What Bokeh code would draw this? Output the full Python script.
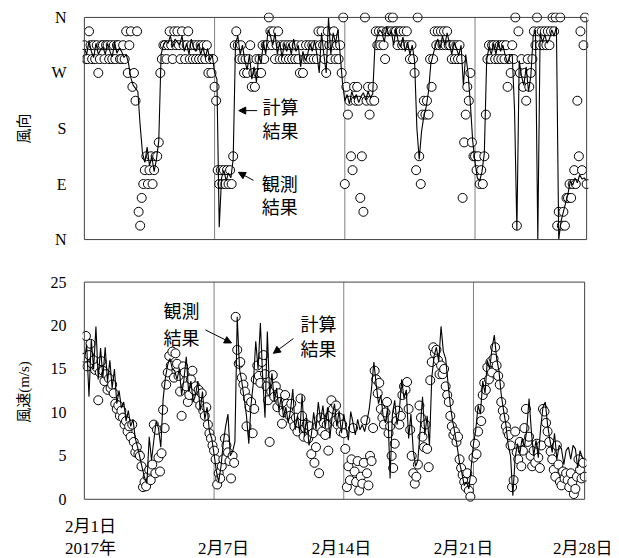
import numpy as np
from bokeh.plotting import figure
from bokeh.layouts import column
from bokeh.models import (FixedTicker, BoxAnnotation, Label, Arrow, NormalHead, Range1d,
                          LinearAxis)
from bokeh.embed import file_html
from bokeh.resources import INLINE

# ---------------- data (from 2017-02-01 00:00) ----------------
# observations: 2-hourly (12 per day); calculation: 3-hourly (8 per day)
OBS_PER_DAY = 12
CALC_PER_DAY = 8

obs_speed = [
    16.3, 18.8, 15.3, 16.6, 17.9, 15.6, 16.0, 14.9, 15.2, 11.4, 14.6, 15.9,
    14.8, 13.6, 14.4, 12.6, 13.9, 12.8, 13.2, 12.2, 11.0, 10.4, 10.8, 9.6,
    10.2, 9.4, 8.6, 9.0, 7.8, 8.4, 7.2, 8.6, 6.6, 5.4, 6.0, 5.2,
    5.0, 3.8, 1.4, 2.0, 1.5, 2.6, 3.4, 2.2, 4.0, 8.6, 3.0, 8.0,
    4.8, 3.2, 5.3, 10.3, 8.2, 13.2, 14.6, 16.5, 15.4, 17.0, 14.0, 16.8,
    15.6, 14.2, 12.4, 9.6, 15.3, 14.6, 13.0, 11.2, 12.0, 13.8, 14.8, 12.6,
    13.0, 11.6, 12.6, 10.8, 12.2, 10.2, 9.6, 10.6, 8.6, 7.6, 7.0, 6.2,
    5.6, 4.6, 1.7, 3.0, 2.4, 3.8, 4.6, 7.0, 6.2, 5.4, 4.4, 2.4,
    5.0, 4.2, 21.0, 17.2, 15.6, 15.8, 14.0, 13.2, 12.4, 8.4, 11.6, 10.6,
    11.2, 7.6, 10.4, 13.8, 15.4, 14.2, 13.4, 15.8, 16.6, 14.4, 13.0, 11.4,
    6.6, 12.4, 14.3, 11.8, 13.0, 10.6, 12.2, 11.2, 8.7, 10.0, 12.0, 11.0,
    10.4, 9.6, 11.0, 9.0, 8.4, 9.4, 7.8, 8.8, 11.6, 9.6, 7.2, 8.2,
    8.6, 7.0, 8.4, 5.2, 7.6, 4.2, 6.0, 8.4, 3.0, 9.4, 7.8, 8.8,
    7.4, 8.6, 5.6, 9.6, 11.4, 10.4, 9.0, 10.8, 8.6, 9.4, 7.8, 8.6,
    7.6, 5.8, 1.4, 3.8, 2.2, 4.6, 8.2, 3.2, 2.0, 4.4, 1.0, 2.6,
    1.8, 4.2, 9.1, 3.0, 1.6, 5.0, 4.4, 8.2, 14.8, 13.8, 12.2, 13.4,
    10.4, 9.4, 8.6, 10.0, 11.2, 7.6, 8.4, 5.0, 3.6, 6.4, 9.0, 10.2,
    8.6, 9.6, 12.0, 13.0, 12.6, 13.5, 10.4, 8.0, 5.0, 3.0, 1.8, 2.6,
    4.0, 10.8, 9.4, 7.2, 6.0, 8.6, 5.8, 3.7, 13.7, 15.8, 17.5, 16.8,
    17.2, 16.0, 14.4, 15.4, 14.4, 15.0, 13.0, 12.0, 11.2, 9.6, 8.4, 7.4,
    7.8, 6.6, 7.2, 4.6, 3.6, 2.8, 2.0, 1.4, 3.0, 1.0, 0.3, 2.2,
    4.8, 6.4, 5.2, 7.8, 10.4, 9.0, 12.0, 13.4, 12.6, 15.2, 13.8, 15.8,
    14.6, 16.2, 17.5, 15.4, 14.2, 13.2, 11.2, 10.2, 9.4, 8.4, 7.8, 7.4,
    6.2, 1.4, 2.2, 7.8, 5.4, 4.6, 6.6, 3.8, 5.6, 8.2, 10.4, 6.6,
    7.2, 5.0, 3.8, 5.6, 4.2, 6.4, 4.8, 3.6, 6.2, 10.4, 10.1, 8.8,
    7.8, 6.6, 5.5, 4.6, 3.4, 2.6, 6.2, 4.0, 2.0, 1.6, 3.2, 2.4,
    3.0, 2.2, 1.4, 3.0, 2.0, 0.6, 1.2, 2.6, 4.6, 3.4, 2.4, 4.2,
    2.6,
]

obs_dir = [
    315, 292.5, 292.5, 337.5, 315, 292.5, 315, 292.5, 315, 270, 292.5, 315,
    315, 292.5, 315, 315, 292.5, 315, 292.5, 315, 292.5, 315, 315, 292.5,
    292.5, 315, 292.5, 337.5, 270, 315, 337.5, 247.5, 270, 225, 337.5, 45,
    22.5, 67.5, 90, 112.5, 135, 90, 112.5, 135, 90, 112.5, 135, 135,
    157.5, 270, 292.5, 315, 315, 292.5, 315, 337.5, 315, 292.5, 337.5, 315,
    337.5, 315, 292.5, 337.5, 315, 292.5, 315, 337.5, 292.5, 315, 292.5, 315,
    292.5, 315, 292.5, 315, 292.5, 315, 292.5, 315, 270, 292.5, 270, 292.5,
    247.5, 225, 112.5, 90, 112.5, 90, 112.5, 90, 112.5, 90, 112.5, 90,
    135, 315, 337.5, 315, 292.5, 315, 292.5, 270, 292.5, 270, 292.5, 315,
    247.5, 270, 247.5, 292.5, 270, 292.5, 270, 315, 292.5, 315, 315, 360,
    337.5, 315, 337.5, 292.5, 315, 337.5, 292.5, 315, 292.5, 315, 292.5, 315,
    292.5, 315, 292.5, 315, 292.5, 315, 292.5, 270, 315, 270, 292.5, 315,
    292.5, 315, 292.5, 315, 292.5, 315, 292.5, 337.5, 315, 337.5, 315, 292.5,
    270, 337.5, 315, 292.5, 315, 337.5, 292.5, 315, 292.5, 315, 270, 360,
    90, 247.5, 202.5, 225, 135, 112.5, 247.5, 225, 247.5, 225, 67.5, 135,
    45, 360, 225, 247.5, 202.5, 225, 247.5, 225, 337.5, 315, 337.5, 315,
    337.5, 315, 292.5, 337.5, 337.5, 360, 337.5, 360, 337.5, 337.5, 315, 337.5,
    337.5, 315, 337.5, 315, 337.5, 315, 292.5, 315, 292.5, 270, 112.5, 360,
    135, 90, 202.5, 225, 202.5, 225, 202.5, 292.5, 247.5, 292.5, 337.5, 315,
    337.5, 315, 337.5, 315, 337.5, 315, 337.5, 315, 315, 292.5, 315, 292.5,
    315, 292.5, 315, 292.5, 67.5, 157.5, 202.5, 247.5, 225, 270, 157.5, 135,
    135, 112.5, 135, 90, 112.5, 90, 135, 202.5, 292.5, 315, 292.5, 315,
    315, 292.5, 315, 292.5, 315, 292.5, 315, 292.5, 315, 247.5, 292.5, 270,
    315, 292.5, 360, 22.5, 337.5, 270, 292.5, 247.5, 270, 225, 292.5, 247.5,
    270, 292.5, 337.5, 315, 360, 337.5, 315, 337.5, 315, 337.5, 315, 337.5,
    315, 337.5, 360, 337.5, 360, 22.5, 45, 360, 22.5, 45, 22.5, 67.5,
    67.5, 90, 67.5, 90, 112.5, 90, 225, 135, 337.5, 112.5, 315, 360,
    90,
]

calc_speed = [
    16.0, 17.8, 11.8, 18.4, 15.0, 19.9, 13.8, 17.4,
    14.0, 17.5, 13.5, 16.0, 12.8, 15.0, 11.0, 12.5,
    10.5, 11.2, 9.0, 10.2, 8.4, 9.2, 7.0, 6.0,
    4.8, 3.6, 2.5, 1.8, 7.2, 4.5, 6.8, 9.0,
    8.2, 6.0, 11.5, 14.0, 15.5, 16.2, 15.0, 14.8,
    13.8, 15.0, 12.0, 13.8, 16.4, 12.4, 13.6, 11.2,
    12.0, 13.6, 10.2, 12.4, 9.2, 10.6, 7.8, 7.0,
    5.2, 3.2, 2.0, 3.8, 6.5, 8.4, 9.8, 5.0,
    5.5, 6.6, 21.0, 15.0, 13.5, 11.6, 9.6, 6.4,
    11.0, 13.5, 18.2, 15.0, 20.3, 14.0, 9.4, 19.3,
    12.0, 14.5, 11.2, 12.8, 10.2, 11.8, 9.4, 10.6,
    8.8, 10.2, 12.7, 8.0, 9.6, 7.6, 12.0, 7.2,
    9.4, 6.2, 7.4, 10.0, 8.0, 11.2, 9.0, 10.8,
    8.2, 10.6, 7.0, 9.6, 11.0, 8.4, 10.2, 7.6,
    9.8, 8.2, 6.8, 10.1, 8.8, 7.4, 9.2, 8.0,
    8.6, 7.8, 9.0, 10.4, 12.8, 15.8, 13.2, 11.0,
    12.0, 9.6, 8.8, 10.6, 2.4, 9.8, 11.4, 8.6,
    10.2, 13.8, 11.6, 12.6, 7.0, 9.8, 5.6, 3.8,
    4.5, 8.0, 11.8, 7.4, 9.6, 6.2, 14.0, 16.5,
    17.5, 15.8, 19.9, 17.0, 16.2, 13.4, 10.8, 9.0,
    7.6, 6.0, 4.2, 3.0, 1.6, 2.0, 1.2, 3.6,
    6.4, 8.0, 10.8, 9.8, 13.6, 12.2, 16.0, 15.0,
    17.4, 18.9, 16.2, 14.8, 12.0, 10.2, 8.6, 6.2,
    5.0, 0.4, 4.8, 6.4, 5.2, 7.0, 6.0, 8.0,
    11.6, 7.8, 5.0, 6.8, 4.8, 8.2, 10.6, 11.2,
    8.6, 6.8, 5.4, 7.6, 4.6, 6.2, 5.8, 4.0,
    5.6, 6.0, 4.6, 6.2, 5.8, 3.6, 5.6, 4.8,
    4.6,
]

calc_dir = [
    310, 300, 322, 305, 295, 318, 300, 308,
    312, 300, 318, 305, 296, 320, 302, 310,
    305, 295, 300, 285, 262, 250, 245, 240,
    185, 140, 125, 150, 120, 135, 110, 130,
    160, 300, 315, 322, 318, 330, 312, 325,
    320, 315, 330, 305, 318, 300, 325, 310,
    305, 318, 300, 312, 295, 310, 290, 300,
    270, 260, 20, 100, 112, 95, 108, 100,
    130, 318, 330, 300, 315, 290, 275, 300,
    260, 280, 255, 300, 285, 320, 300, 340,
    330, 315, 335, 300, 320, 295, 318, 305,
    318, 300, 325, 305, 315, 280, 305, 290,
    300, 318, 305, 322, 300, 270, 335, 300,
    270, 360, 300, 335, 318, 340, 300, 255,
    225, 235, 220, 240, 228, 235, 222, 232,
    238, 226, 240, 230, 236, 318, 330, 340,
    335, 320, 345, 330, 338, 315, 342, 320,
    312, 328, 305, 320, 300, 315, 290, 180,
    130, 175, 200, 215, 240, 285, 300, 315,
    325, 310, 330, 315, 335, 318, 300, 320,
    310, 298, 315, 250, 300, 270, 220, 160,
    125, 100, 95, 110, 140, 290, 312, 300,
    318, 300, 322, 305, 315, 298, 285, 300,
    300, 210, 15, 290, 265, 250, 280, 240,
    265, 330, 340, 0, 335, 320, 332, 318,
    325, 340, 330, 345, 0, 30, 45, 60,
    75, 95, 88, 100, 92, 105, 98, 100,
    95,
]

dir_ticks = [0, 90, 180, 270, 360]
dir_labels = ["N", "E", "S", "W", "N"]
speed_ticks = [0, 5, 10, 15, 20, 25]
day_dividers = [7, 14, 21]
n_days = 27
x_tick_labels = ["2月1日", "2月7日", "2月14日", "2月21日", "2月28日"]
year_label = "2017年"

# ---------------- layout / styling ----------------
t_obs = np.arange(len(obs_speed)) / OBS_PER_DAY
t_calc = np.arange(len(calc_speed)) / CALC_PER_DAY

SERIF_CJK = "'Liberation Serif', 'Noto Sans CJK JP'"
CJK = "'Noto Sans CJK JP'"
BOX_COLOR = "#404040"
DIV_COLOR = "#808080"
MARK = 9


def plain_axis(ax, standoff, font, size):
    ax.axis_line_color = None
    ax.major_tick_line_color = None
    ax.minor_tick_line_color = None
    ax.major_tick_out = 0
    ax.major_tick_in = 0
    ax.minor_tick_out = 0
    ax.minor_tick_in = 0
    ax.major_label_standoff = standoff
    ax.major_label_text_font = font
    ax.major_label_text_font_size = size
    ax.major_label_text_color = "black"


def style_common(p):
    p.xgrid.visible = False
    p.ygrid.visible = False
    p.outline_line_color = None
    p.background_fill_color = "white"
    p.border_fill_color = "white"
    ax = p.yaxis[0]
    plain_axis(ax, 16, "Liberation Serif", "16px")
    ax.axis_label_text_font = SERIF_CJK
    ax.axis_label_text_font_size = "15px"
    ax.axis_label_text_font_style = "normal"
    ax.axis_label_text_color = "black"
    ax.axis_label_standoff = 16


def arrow(p, xs, ys, xe, ye):
    p.add_layout(Arrow(end=NormalHead(size=7, fill_color="black", line_color="black"),
                       x_start=xs, y_start=ys, x_end=xe, y_end=ye,
                       line_color="black", line_width=1))


def note(p, txt, xx, yy):
    p.add_layout(Label(x=xx, y=yy, text=txt, text_font=CJK, text_font_size="18px",
                       text_align="center", text_baseline="middle", text_color="black"))


# ---- top panel: wind direction ----
p1 = figure(frame_width=506, frame_height=232, x_axis_type=None,
            min_border_left=80, min_border_right=33, min_border_top=12, min_border_bottom=14,
            x_range=Range1d(-0.1, n_days + 0.1), y_range=Range1d(dir_ticks[0] - 8, dir_ticks[-1] + 8),
            output_backend="svg", toolbar_location=None)
style_common(p1)
p1.yaxis.ticker = FixedTicker(ticks=dir_ticks)
p1.yaxis.major_label_overrides = {k: v for k, v in zip(dir_ticks, dir_labels)}
p1.yaxis.axis_label = "風向"

p1.segment(x0=day_dividers, y0=dir_ticks[0], x1=day_dividers, y1=dir_ticks[-1],
           line_color=DIV_COLOR, line_width=1)
p1.scatter(t_obs, obs_dir, marker="circle", size=MARK, fill_color="white",
           line_color="black", line_width=1)
p1.line(t_calc, calc_dir, line_color="black", line_width=1.1)
p1.add_layout(BoxAnnotation(left=0, right=n_days, bottom=dir_ticks[0], top=dir_ticks[-1],
                            fill_color=None, line_color=BOX_COLOR, line_width=1, line_alpha=1))

note(p1, "計算", 10.55, 217)
note(p1, "結果", 10.55, 177)
note(p1, "観測", 10.5, 92)
note(p1, "結果", 10.5, 55)
arrow(p1, 9.29, 209, 8.3, 209)
arrow(p1, 9.09, 96, 8.28, 109)

# ---- bottom panel: wind speed ----
p2 = figure(frame_width=504, frame_height=225,
            min_border_left=82, min_border_right=33, min_border_top=21, min_border_bottom=54,
            x_range=Range1d(-0.1, n_days + 0.1), y_range=Range1d(speed_ticks[0] - 0.6, speed_ticks[-1] + 0.3),
            output_backend="svg", toolbar_location=None)
style_common(p2)
p2.yaxis.ticker = FixedTicker(ticks=speed_ticks)
p2.yaxis.axis_label = "風速(m/s)"

p2.segment(x0=day_dividers, y0=speed_ticks[0], x1=day_dividers, y1=speed_ticks[-1],
           line_color=DIV_COLOR, line_width=1)
p2.scatter(t_obs, obs_speed, marker="circle", size=MARK, fill_color="white",
           line_color="black", line_width=1)
p2.line(t_calc, calc_speed, line_color="black", line_width=1.1)
p2.add_layout(BoxAnnotation(left=0, right=n_days, bottom=speed_ticks[0], top=speed_ticks[-1],
                            fill_color=None, line_color=BOX_COLOR, line_width=1, line_alpha=1))

note(p2, "観測", 5.24, 21.8)
note(p2, "結果", 5.24, 18.7)
note(p2, "計算", 12.64, 20.3)
note(p2, "結果", 12.64, 17.4)
arrow(p2, 6.53, 19.5, 7.94, 18.0)
arrow(p2, 11.28, 18.5, 10.2, 16.8)

# x tick labels: first row carries the first date, second row the other dates and the year
x_label_pos = [0.33, 7.51, 13.88, 20.46, 26.9]
ax_a = p2.xaxis[0]
ax_a.ticker = FixedTicker(ticks=x_label_pos[:1])
ax_a.major_label_overrides = {x_label_pos[0]: x_tick_labels[0]}
plain_axis(ax_a, 12, SERIF_CJK, "17px")

ax_b = LinearAxis(ticker=FixedTicker(ticks=x_label_pos))
ax_b.major_label_overrides = dict(zip(x_label_pos, [year_label] + x_tick_labels[1:]))
plain_axis(ax_b, 0, SERIF_CJK, "17px")
p2.add_layout(ax_b, "below")

layout = column(p1, p2)
open("out.html", "w").write(file_html(layout, INLINE))
